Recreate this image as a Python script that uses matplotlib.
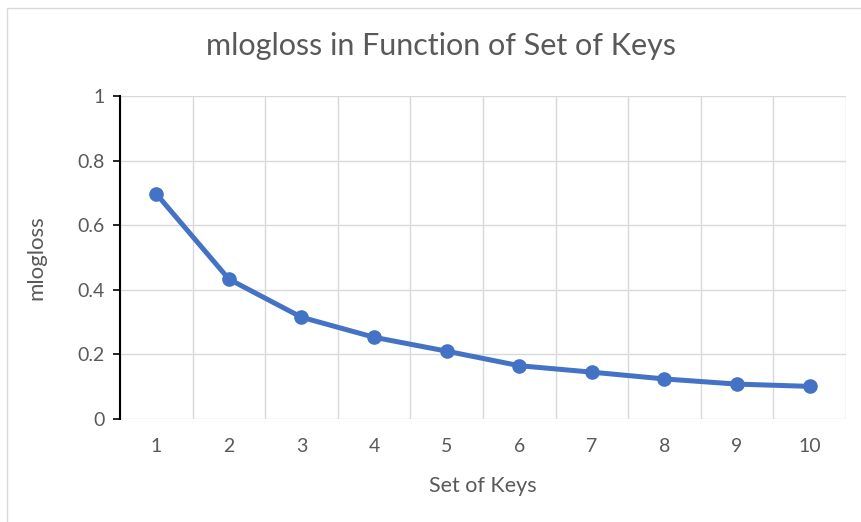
import matplotlib.pyplot as plt
from matplotlib.patches import Rectangle

# data
keys = [1, 2, 3, 4, 5, 6, 7, 8, 9, 10]
mlogloss = [0.697, 0.433, 0.315, 0.253, 0.210, 0.165, 0.145, 0.124, 0.108, 0.101]
y_ticks = [0, 0.2, 0.4, 0.6, 0.8, 1]
y_tick_labels = ["0", "0.2", "0.4", "0.6", "0.8", "1"]

W, H = 862, 522
plt.rcParams['font.family'] = ['Lato', 'DejaVu Sans']

fig = plt.figure(figsize=(W / 100, H / 100), dpi=100)
fig.patch.set_facecolor('white')

# thin frame round the chart, like the Excel chart border
fig.patches.append(Rectangle((7 / W, -0.01), 1.2, (H - 8) / H + 0.01,
                             transform=fig.transFigure, fill=False,
                             edgecolor='#d9d9d9', linewidth=1.0))

ax = fig.add_axes([120 / W, 1 - 419 / H, (846 - 120) / W, (419 - 96) / H])
ax.plot(keys, mlogloss, color='#4472C4', linewidth=3.6, marker='o',
        markersize=9.5, solid_capstyle='round', zorder=3)

ax.set_xlim(0.5, 10.5)
ax.set_ylim(0, 1)

# grid: vertical lines sit between categories
for x in [k + 0.5 for k in range(0, 11)]:
    ax.axvline(x, color='#d9d9d9', linewidth=1.0, zorder=1)
for y in y_ticks:
    ax.axhline(y, color='#d9d9d9', linewidth=1.0, zorder=1)

ax.set_xticks(keys)
ax.set_xticklabels([str(k) for k in keys])
ax.set_yticks(y_ticks)
ax.set_yticklabels(y_tick_labels)
ax.tick_params(axis='x', length=0, pad=14, labelsize=14, labelcolor='#595959')
ax.tick_params(axis='y', length=5, width=1.2, color='black', pad=6,
               labelsize=14, labelcolor='#595959')

for s in ['top', 'right', 'bottom']:
    ax.spines[s].set_visible(False)
ax.spines['left'].set_color('black')
ax.spines['left'].set_linewidth(1.5)

ax.set_xlabel('Set of Keys', fontsize=15.5, color='#595959', labelpad=15)
ax.set_ylabel('mlogloss', fontsize=16, color='#595959', labelpad=22)
fig.text(441 / W, 1 - 46 / H, 'mlogloss in Function of Set of Keys',
         ha='center', va='center', fontsize=22, color='#595959')

fig.savefig('out.png', dpi=100)
